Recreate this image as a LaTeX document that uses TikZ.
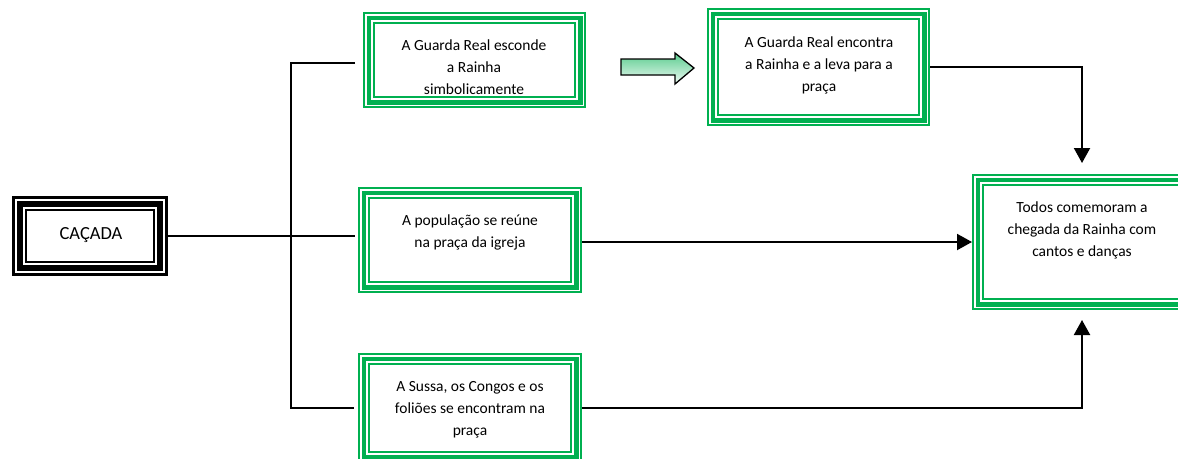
\documentclass[tikz,border=0pt]{standalone}
\usepackage{fontspec}
\setmainfont{Carlito}
\usetikzlibrary{arrows.meta}
\definecolor{og}{HTML}{00B050}
\begin{document}
\begin{tikzpicture}[x=1pt,y=-1pt,
  area/.style={inner sep=0pt, outer sep=0pt, draw=none},
  txt/.style={align=center, inner sep=0pt, font=\fontsize{15.5}{22}\selectfont},
  conn/.style={line width=2pt, black},
  tip/.style={-{Triangle[width=16pt,length=15pt]}}]
\clip (0,0) rectangle (1178,458);
\fill[white] (0,0) rectangle (1178,458);
% CACADA box
\node[area, minimum width=156pt, minimum height=80pt] (cacada) at (90,236) {};
\node[txt, font=\fontsize{18.5}{20}\selectfont] (cacadat) at (91,235) {CAÇADA};
\draw[line width=3pt] ([shift={(1.5pt,-1.5pt)}]cacada.north west) rectangle ([shift={(-1.5pt,1.5pt)}]cacada.south east);
\draw[line width=6pt] ([shift={(8pt,-8pt)}]cacada.north west) rectangle ([shift={(-8pt,8pt)}]cacada.south east);
\draw[line width=2.2pt] ([shift={(14pt,-14pt)}]cacada.north west) rectangle ([shift={(-14pt,14pt)}]cacada.south east);
% green boxes
\node[area, minimum width=223pt, minimum height=96pt] (b1) at (474.5,60) {};
\node[area, minimum width=223pt, minimum height=118pt] (b2) at (818.5,67) {};
\node[area, minimum width=224pt, minimum height=106pt] (b3) at (470,240) {};
\node[area, minimum width=224pt, minimum height=110pt] (b4) at (470,408) {};
\node[area, minimum width=220pt, minimum height=136pt] (b5) at (1082,242) {};
\foreach \n in {b1,b2,b3,b4,b5}{
  \draw[og,line width=2pt] ([shift={(1pt,-1pt)}]\n.north west) rectangle ([shift={(-1pt,1pt)}]\n.south east);
  \draw[og,line width=4.6pt] ([shift={(5.8pt,-5.8pt)}]\n.north west) rectangle ([shift={(-5.8pt,5.8pt)}]\n.south east);
  \draw[og,line width=2pt] ([shift={(11pt,-11pt)}]\n.north west) rectangle ([shift={(-11pt,11pt)}]\n.south east);
}
\node[txt] (t1) at (474,67) {A Guarda Real esconde\\a Rainha\\simbolicamente};
\node[txt] (t2) at (819,65) {A Guarda Real encontra\\a Rainha e a leva para a\\praça};
\node[txt] (t3) at (470,232) {A população se reúne\\na praça da igreja};
\node[txt] (t4) at (470,410) {A Sussa, os Congos e os\\foliões se encontram na\\praça};
\node[txt] (t5) at (1082,230) {Todos comemoram a\\chegada da Rainha com\\cantos e danças};
% block arrow
\draw[line width=1.3pt, top color=og!65!white, bottom color=og!6!white]
  (621,59) -- (675,59) -- (675,53) -- (694,68) -- (675,84) -- (675,75) -- (621,75) -- cycle;
% connectors
\coordinate (jt) at (291,63);
\coordinate (jb) at (291,408);
\coordinate (e1) at (355,63);
\coordinate (e4) at (354,408);
\coordinate (e3) at (355,236);
\draw[conn] (e1) -- (jt) -- (jb) -- (e4);
\draw[conn] (cacada.east) -- (e3);
\draw[conn,tip] (b3.east |- b5.west) -- (b5.west);
\draw[conn,tip] (b2.east) -| ([yshift=11pt]b5.north);
\draw[conn,tip] (b4.east) -| ([yshift=-10pt]b5.south);
\end{tikzpicture}
\end{document}
